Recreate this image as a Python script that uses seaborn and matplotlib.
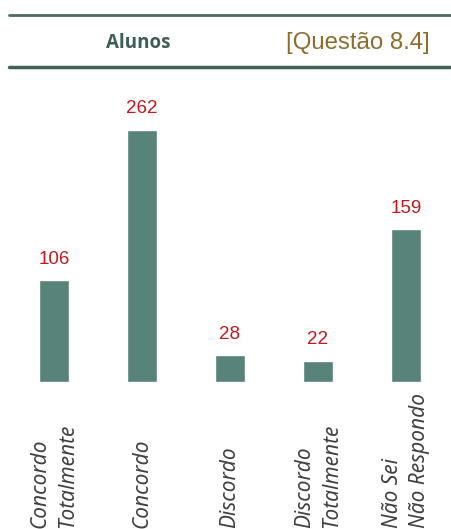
import pandas as pd
import seaborn as sns
import matplotlib.pyplot as plt
from matplotlib.lines import Line2D

# Questão 8.4 - respostas dos alunos
categorias = ["Concordo\nTotalmente", "Concordo", "Discordo",
              "Discordo\nTotalmente", "Não Sei\nNão Respondo"]
valores = [106, 262, 28, 22, 159]

df = pd.DataFrame({"categoria": categorias, "n": valores})

sns.set_theme(style="white")
plt.rcParams['font.family'] = ['Open Sans', 'DejaVu Sans']

fig = plt.figure(figsize=(4.51, 5.29), dpi=100)
ax = fig.add_axes([10 / 451, 147 / 529, 440 / 451, 288.6 / 529])

sns.barplot(data=df, x="categoria", y="n", color="#57837a", saturation=1,
            width=0.34, ax=ax)

ax.set_xlim(-0.5, 4.5)
ax.set_ylim(0, 300)
ax.bar_label(ax.containers[0], padding=9, color="#c8161d", fontsize=13.5,
             family="Liberation Sans")

# rotulos do eixo x, italico, comecando no fundo da figura
ax.tick_params(axis="x", length=0, pad=105)
for lab in ax.get_xticklabels():
    lab.set_rotation(90)
    lab.set_rotation_mode("anchor")
    lab.set_ha("left")
    lab.set_va("center")
    lab.set_multialignment("left")
    lab.set_family(["Noto Sans", "DejaVu Sans"])
    lab.set_fontstyle("italic")
    lab.set_fontsize(15)
    lab.set_linespacing(1.4)
    lab.set_color("#404040")

ax.set_yticks([])
ax.set_xlabel("")
ax.set_ylabel("")
sns.despine(ax=ax, left=True, bottom=True)

# cabecalho
fig.add_artist(Line2D([9 / 451, 1], [1 - 15 / 529] * 2, color="#4d6963", lw=2))
fig.add_artist(Line2D([9 / 451, 1], [1 - 67 / 529] * 2, color="#3f5f57", lw=2.5))
fig.text(138 / 451, 1 - 43 / 529, "Alunos", ha="center", va="center",
         fontsize=13.5, fontweight="bold", color="#3d5e55")
fig.text(430 / 451, 1 - 43 / 529, "[Questão 8.4]", ha="right", va="center",
         fontsize=17.3, color="#8c6d2c", family="Liberation Sans")

fig.savefig("out.png", dpi=100)
